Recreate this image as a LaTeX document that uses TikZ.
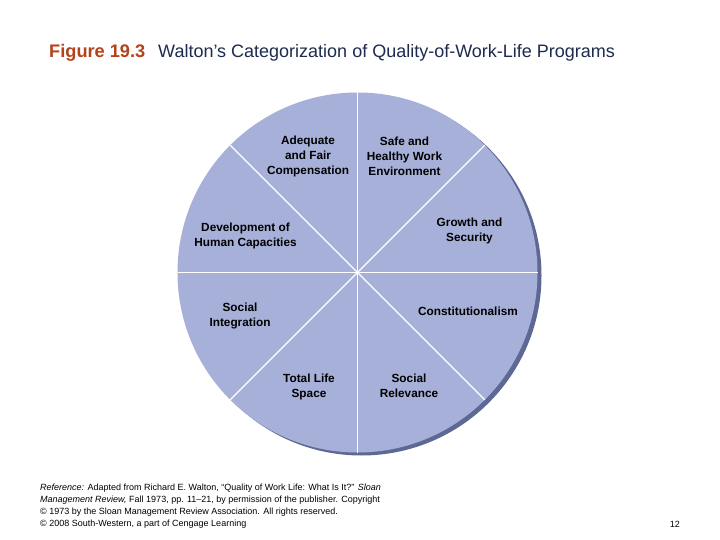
\documentclass[tikz,border=0pt]{standalone}
\usepackage{fontspec}
\setmainfont{Liberation Sans}
\usetikzlibrary{calc}
\definecolor{pie}{HTML}{A7B0D9}
\definecolor{pieshade}{HTML}{5D6894}
\definecolor{figred}{HTML}{B4421B}
\definecolor{navy}{HTML}{1C2B4E}
\tikzset{
  lab/.style={font=\bfseries\fontsize{11.8}{15}\selectfont, align=center, text=black, inner sep=0pt},
  foot/.style={font=\fontsize{9}{12}\selectfont, anchor=west, inner sep=0pt, text=black},
  divider/.style={draw=white, line width=1.1pt}
}
\begin{document}
\begin{tikzpicture}[x=1pt,y=-1pt]
\useasboundingbox[fill=white] (0,0) rectangle (720,540);
% title
\node[anchor=west, inner sep=0pt, font=\bfseries\fontsize{18.2}{21}\selectfont, text=figred] (fig) at (49,53) {Figure 19.3};
\node[anchor=west, inner sep=0pt, font=\fontsize{18}{21}\selectfont, text=navy] (title) at (158,53) {Walton’s Categorization of Quality-of-Work-Life Programs};
% pie
\coordinate (c) at (357.5,272.5);
\fill[pieshade] (361.5,275.5) circle[radius=180];
\fill[pie] (c) circle[radius=180];
\foreach \a in {0,45,90,135,180,225,270,315}{
  \draw[divider] (c) -- ($(c)+(\a:180)$);
}
% labels
\node[lab] (adequate) at (308,156.5) {Adequate\\and Fair\\Compensation};
\node[lab] (safe) at (404.5,156.5) {Safe and\\Healthy Work\\Environment};
\node[lab] (growth) at (469.5,231) {Growth and\\Security};
\node[lab] (const) at (468,311.5) {Constitutionalism};
\node[lab] (relev) at (409,385.5) {Social\\Relevance};
\node[lab] (total) at (309,386.5) {Total Life\\Space};
\node[lab] (integ) at (240,316) {Social\\Integration};
\node[lab] (devel) at (245.5,235.5) {Development of\\Human Capacities};
% footer
\node[foot] (f1) at (40,488) {\textit{Reference:} Adapted from Richard E. Walton, “Quality of Work Life: What Is It?” \textit{Sloan}};
\node[foot] (f2) at (40,500) {\textit{Management Review,} Fall 1973, pp. 11–21, by permission of the publisher. Copyright};
\node[foot] (f3) at (40,512) {© 1973 by the Sloan Management Review Association. All rights reserved.};
\node[foot] (f4) at (40,524) {© 2008 South-Western, a part of Cengage Learning};
\node[foot, anchor=east] (pg) at (680,524) {12};
\end{tikzpicture}
\end{document}
